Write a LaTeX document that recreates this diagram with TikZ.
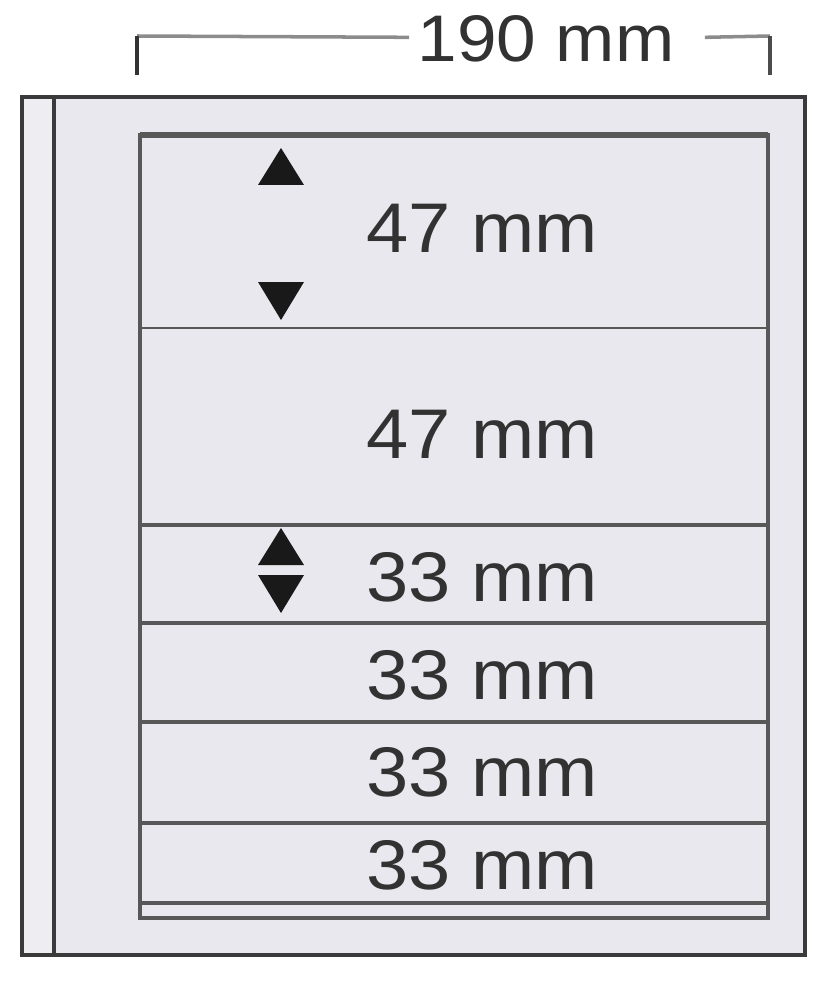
\documentclass[tikz,border=0pt]{standalone}
\usepackage{fontspec}
\setmainfont[FakeStretch=1.08]{Liberation Sans}
\usetikzlibrary{positioning,calc}

\definecolor{pagefill}{RGB}{232,232,238}
\definecolor{stripfill}{RGB}{238,238,242}
\definecolor{framegray}{RGB}{58,58,58}
\definecolor{linegray}{RGB}{88,88,88}
\definecolor{textgray}{RGB}{50,50,50}

\begin{document}
\begin{tikzpicture}[x=0.02cm,y=-0.02cm,
  frameline/.style={draw=framegray,line width=2.2pt},
  stripline/.style={draw=linegray,line width=2.6pt},
  sizelabel/.style={text=textgray,inner sep=0pt,anchor=base,
    font=\fontsize{40}{48}\selectfont},
  marker/.style={fill=black!90}]
\useasboundingbox (0,0) rectangle (829,1000);

%page
\fill[pagefill] (22,97) rectangle (805,955);
\fill[stripfill] (22,97) rectangle (54,955);
\draw[frameline] (22,97) rectangle (805,955);
\draw[frameline,line width=1.8pt] (54,97)--(54,955);

%pocket panel
\draw[stripline,line width=2.2pt] (140,135) rectangle (768,918);
\draw[stripline,line width=3.2pt] (140,135)--(768,135);
\draw[stripline,line width=1.6pt] (140,328)--(768,328);
\foreach\y in {525,623,722,823,903}
\draw[stripline] (140,\y)--(768,\y);

% labels
\node[sizelabel] (lab1) at (482,253) {47 mm};
\node[sizelabel] (lab2) at (482,458) {47 mm};
\node[sizelabel] (lab3) at (482,601) {33 mm};
\node[sizelabel] (lab4) at (482,699) {33 mm};
\node[sizelabel] (lab5) at (482,796) {33 mm};
\node[sizelabel] (lab6) at (482,889) {33 mm};

% arrow marks
\foreach\y in {148,528}
\fill[marker] (258,\y+37)--(281,\y)--(304,\y+37)--cycle;
\foreach\y in {282,575}
\fill[marker] (258,\y)--(281,\y+38)--(304,\y)--cycle;

%190 mm
\node[sizelabel,font=\fontsize{37.5}{45}\selectfont] (dimtext) at (546,62) {190 mm};
\coordinate (dimleft) at (137,75);
\coordinate (dimright) at (770,75);
\draw[draw=black!45,line width=2pt] ($(dimtext.west)+(-8,-2)$) -- (137,36);
\draw[draw=black!45,line width=2pt] ($(dimtext.east)+(30,-2)$) -- (770,36);
\draw[draw=black!80,line width=2pt] (dimleft) -- (137,36);
\draw[draw=black!70,line width=2pt] (dimright) -- (770,36);
\end{tikzpicture}
\end{document}
